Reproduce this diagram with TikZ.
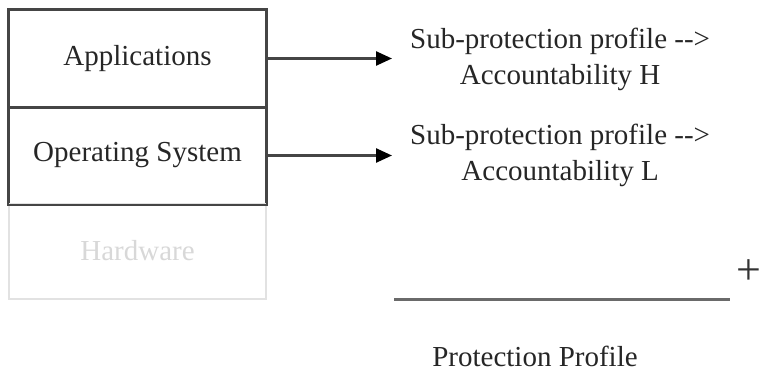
\documentclass[tikz,border=0pt]{standalone}
\usepackage{fontspec}
\setmainfont{Liberation Serif}
\usetikzlibrary{arrows.meta}
\definecolor{boxline}{HTML}{454545}
\definecolor{fadeline}{HTML}{E2E2E2}
\definecolor{fadetext}{HTML}{D8D8D8}
\definecolor{ruleline}{HTML}{6A6A6A}
\begin{document}
\begin{tikzpicture}[x=1pt,y=-1pt,
  every node/.style={font=\fontsize{29}{36}\selectfont},
  layer/.style={draw=boxline, line width=2pt, minimum width=257pt, inner sep=0pt, text=black!85},
  fadedlayer/.style={draw=fadeline, line width=2pt, minimum width=257pt, inner sep=0pt, text=fadetext},
  profile/.style={align=center, inner ysep=0pt, inner xsep=18pt, text=black!85},
  link/.style={draw=boxline, line width=2.5pt, -{Triangle[length=16pt,width=14pt,fill=black,color=black]}}
]
\useasboundingbox (0,0) rectangle (762,372);

% stacked layers
\node[layer, minimum height=97pt] (app) at (137.5,58.5) {Applications};
\node[layer, minimum height=96pt] (os) at (137.5,155.5) {Operating System};
\node[fadedlayer, minimum height=95pt] (hw) at (137.5,251) {Hardware};
\draw[boxline, line width=2pt] (app.north west) rectangle (os.south east);
\draw[boxline, line width=2pt] (app.south west) -- (app.south east);

% sub-protection profiles
\node[profile, anchor=west] (subH) at (392,59) {Sub-protection profile -{}-{}>\\Accountability H};
\node[profile, anchor=west] (subL) at (392,155) {Sub-protection profile -{}-{}>\\Accountability L};

\draw[link] (app.east) -- (app.east -| subH.west);
\draw[link] (os.east) -- (os.east -| subL.west);

% combined protection profile
\coordinate (ruleL) at (394,299);
\coordinate (ruleR) at (730,299);
\draw[ruleline, line width=3pt] (ruleL) -- (ruleR);
\node[font=\fontsize{44}{44}\selectfont, inner sep=0pt, text=black!80] (plus) at (749,272) {+};
\node[text=black!85] (pp) at (535,356) {Protection Profile};
\end{tikzpicture}
\end{document}
